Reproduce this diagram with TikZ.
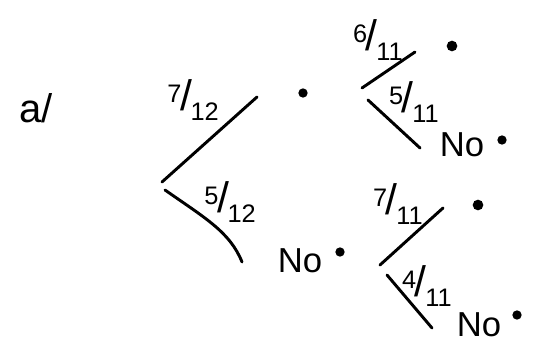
\documentclass[tikz,border=0pt]{standalone}
\usepackage{fontspec}
\setmainfont{Liberation Sans}
\newcommand{\myfr}[2]{\raisebox{0.55ex}{#1}\hspace{-1pt}{\fontsize{32}{32}\selectfont/}\hspace{-1pt}\raisebox{-0.8ex}{#2}}
\begin{document}
\begin{tikzpicture}[x=0.75pt,y=-0.75pt,
  branch/.style={line width=2.2pt,line cap=round},
  lbl/.style={font=\fontsize{19}{20}\selectfont,inner sep=0pt},
  outc/.style={font=\fontsize{26}{28}\selectfont,inner sep=0pt},
  dotn/.style={circle,fill=black,inner sep=0pt,minimum size=7pt}]
\useasboundingbox (0,0) rectangle (534,345);
\node[font=\fontsize{30}{32}\selectfont,inner sep=0pt] (part) at (36,108) {a/};
% first stage
\coordinate (r1) at (162,182);
\coordinate (e1) at (257,97);
\coordinate (r2) at (165,190);
\coordinate (e2) at (242,262);
\draw[branch] (r1) -- (e1);
\draw[branch] (r2) .. controls (205,218) and (230,232) .. (e2);
\node[lbl] (l1) at (193,100) {\myfr{7}{12}};
\node[lbl] (l2) at (230,202) {\myfr{5}{12}};
\node[dotn] (d1) at (303,93) {};
\node[outc] (n1) at (300,261) {No};
\node[dotn] (d2) at (340,252) {};
% upper second stage
\coordinate (r3) at (362,88);
\coordinate (e3) at (415,52);
\coordinate (r4) at (368,100);
\coordinate (e4) at (420,148);
\draw[branch] (r3) -- (e3);
\draw[branch] (r4) -- (e4);
\node[lbl] (l3) at (378,40) {\myfr{6}{11}};
\node[lbl] (l4) at (414,102) {\myfr{5}{11}};
\node[dotn,minimum size=8pt] (d3) at (452,46) {};
\node[outc] (n2) at (462,145) {No};
\node[dotn] (d4) at (502,140) {};
% lower second stage
\coordinate (r5) at (380,265);
\coordinate (e5) at (443,208);
\coordinate (r6) at (387,275);
\coordinate (e6) at (432,328);
\draw[branch] (r5) -- (e5);
\draw[branch] (r6) -- (e6);
\node[lbl] (l5) at (398,204) {\myfr{7}{11}};
\node[lbl] (l6) at (427,286) {\myfr{4}{11}};
\node[dotn,minimum size=8pt] (d5) at (478,205) {};
\node[outc] (n3) at (479,325) {No};
\node[dotn] (d6) at (517,315) {};
\end{tikzpicture}
\end{document}
